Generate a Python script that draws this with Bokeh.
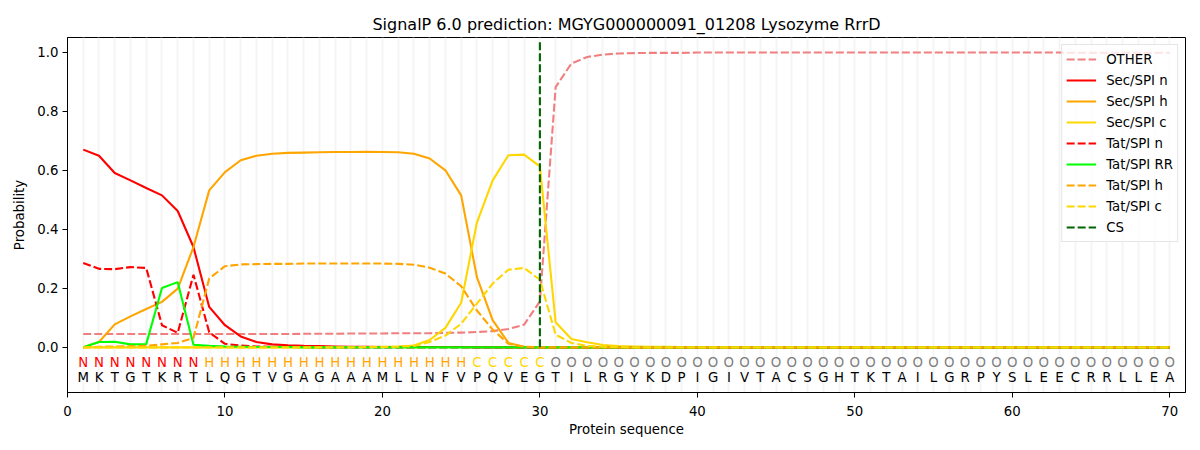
from bokeh.plotting import figure
from bokeh.models import Range1d, FixedTicker, Grid, Legend, LegendItem, ColumnDataSource, CustomJSTickFormatter
from bokeh.core.properties import value
from bokeh.embed import file_html
from bokeh.resources import INLINE

title_text = "SignalP 6.0 prediction: MGYG000000091_01208 Lysozyme RrrD"
sequence = list("MKTGTKRTLQGTVGAGAAAMLLNFVPQVEGTILRGYKDPIGIVTACSGHTKTAILGRPYSLEECRRLLEA")
region_labels = ["N"] * 8 + ["H"] * 17 + ["C"] * 5 + ["O"] * 40
positions = list(range(1, 71))

other = [0.045, 0.045, 0.045, 0.045, 0.045, 0.045, 0.045, 0.045, 0.045, 0.045,
         0.045, 0.045, 0.045, 0.045, 0.046, 0.046, 0.046, 0.047, 0.047, 0.047,
         0.048, 0.048, 0.048, 0.049, 0.050, 0.052, 0.055, 0.062, 0.077, 0.156,
         0.882, 0.962, 0.984, 0.992, 0.996, 0.997, 0.998, 0.998, 0.998, 0.999,
         0.999, 0.999, 0.999, 0.999, 0.999, 0.999, 0.999, 0.999, 0.999, 0.999,
         0.999, 0.999, 0.999, 0.999, 0.999, 0.999, 0.999, 0.999, 0.999, 0.999,
         0.999, 0.999, 0.999, 0.998, 0.998, 0.998, 0.998, 0.998, 0.998, 0.998]
sec_n = [0.670, 0.649, 0.591, 0.566, 0.540, 0.515, 0.462, 0.340, 0.137, 0.075,
         0.037, 0.018, 0.010, 0.007, 0.005, 0.004, 0.003, 0.002, 0.002, 0.001,
         0.001, 0.001, 0.001, 0.001, 0.001, 0.000, 0.000, 0.000, 0.000, 0.000] + [0.0] * 40
sec_h = [0.000, 0.018, 0.078, 0.105, 0.130, 0.154, 0.199, 0.340, 0.532, 0.594,
         0.634, 0.649, 0.656, 0.659, 0.660, 0.661, 0.662, 0.662, 0.663, 0.662,
         0.661, 0.656, 0.640, 0.600, 0.515, 0.238, 0.092, 0.015, 0.002, 0.000] + [0.0] * 40
sec_c = [0.000, 0.000, 0.000, 0.000, 0.000, 0.000, 0.000, 0.000, 0.000, 0.000,
         0.000, 0.000, 0.000, 0.000, 0.000, 0.000, 0.001, 0.001, 0.001, 0.002,
         0.003, 0.006, 0.025, 0.066, 0.151, 0.423, 0.566, 0.651, 0.653, 0.613,
         0.085, 0.028, 0.017, 0.008, 0.004, 0.003, 0.002, 0.002, 0.001, 0.001] + [0.001] * 30
tat_n = [0.286, 0.266, 0.265, 0.272, 0.269, 0.075, 0.049, 0.246, 0.051, 0.012,
         0.006, 0.003, 0.002, 0.001, 0.001, 0.000, 0.000, 0.000, 0.000, 0.000] + [0.0] * 50
tat_rr = [0.000, 0.018, 0.019, 0.010, 0.011, 0.201, 0.221, 0.009, 0.005, 0.003,
          0.002, 0.001, 0.001, 0.001, 0.000, 0.000, 0.000, 0.000, 0.000, 0.000] + [0.0] * 50
tat_h = [0.000, 0.002, 0.003, 0.004, 0.005, 0.010, 0.015, 0.032, 0.233, 0.275,
         0.281, 0.282, 0.283, 0.283, 0.284, 0.284, 0.284, 0.284, 0.284, 0.284,
         0.283, 0.280, 0.270, 0.250, 0.207, 0.125, 0.060, 0.012, 0.002, 0.000] + [0.0] * 40
tat_c = [0.000, 0.000, 0.000, 0.000, 0.000, 0.000, 0.000, 0.000, 0.000, 0.000,
         0.000, 0.000, 0.000, 0.000, 0.000, 0.000, 0.000, 0.000, 0.001, 0.001,
         0.002, 0.005, 0.018, 0.040, 0.080, 0.148, 0.216, 0.263, 0.269, 0.229,
         0.043, 0.015, 0.005, 0.002, 0.001, 0.000, 0.000, 0.000, 0.000, 0.000] + [0.0] * 30
cs_pos = 30
cs_top = 1.035
label_row_y = -0.05
seq_row_y = -0.102
x_ticks = [0, 10, 20, 30, 40, 50, 60, 70]
y_ticks = [0.0, 0.2, 0.4, 0.6, 0.8, 1.0]

label_colors = {"N": "red", "H": "orange", "C": "gold", "O": "grey"}

FONT = "DejaVu Sans"

p = figure(frame_width=1118, frame_height=355, output_backend="svg", toolbar_location=None,
           x_range=Range1d(0, 71), y_range=Range1d(-0.153, 1.05),
           min_border_left=67, min_border_right=7, min_border_top=37, min_border_bottom=50)
p.background_fill_color = "white"
p.border_fill_color = "white"
p.outline_line_color = "black"
p.outline_line_width = 1
p.outline_line_alpha = 1

p.title.text = title_text
p.title.align = "center"
p.title.text_font = FONT
p.title.text_font_size = "16px"
p.title.text_font_style = "normal"
p.title.text_color = "black"
p.title.standoff = 8

p.xgrid.visible = False
p.ygrid.visible = False
vgrid = Grid(dimension=0, ticker=FixedTicker(ticks=positions),
             grid_line_color="#f4f4f4", grid_line_width=2)
p.add_layout(vgrid)

for ax in (p.xaxis[0], p.yaxis[0]):
    ax.axis_label_text_font = FONT
    ax.axis_label_text_font_size = "13.3px"
    ax.axis_label_text_font_style = "normal"
    ax.axis_label_text_color = "black"
    ax.major_label_text_font = FONT
    ax.major_label_text_font_size = "13.3px"
    ax.major_label_text_color = "black"
    ax.major_tick_out = 5
    ax.major_tick_in = 0
    ax.minor_tick_out = 0
    ax.minor_tick_in = 0
    ax.axis_line_color = "black"
    ax.major_tick_line_color = "black"
p.xaxis.axis_label = "Protein sequence"
p.yaxis.axis_label = "Probability"
p.xaxis.ticker = FixedTicker(ticks=x_ticks)
p.yaxis.ticker = FixedTicker(ticks=y_ticks)
p.yaxis.formatter = CustomJSTickFormatter(code="return tick.toFixed(1);")
p.xaxis.major_label_standoff = 8
p.yaxis.major_label_standoff = 4
p.xaxis.axis_label_standoff = 3
p.yaxis.axis_label_standoff = 7

LW = 2.1
DASH = "8 3"
series = [
    ("OTHER", other, "lightcoral", "dash"),
    ("Sec/SPI n", sec_n, "red", "solid"),
    ("Sec/SPI h", sec_h, "orange", "solid"),
    ("Sec/SPI c", sec_c, "gold", "solid"),
    ("Tat/SPI n", tat_n, "red", "dash"),
    ("Tat/SPI RR", tat_rr, "lime", "solid"),
    ("Tat/SPI h", tat_h, "orange", "dash"),
    ("Tat/SPI c", tat_c, "gold", "dash"),
]
items = []
for name, vals, color, style in series:
    dash = "solid" if style == "solid" else DASH
    r = p.line(positions, vals, line_color=color, line_width=LW, line_dash=dash)
    items.append(LegendItem(label=name, renderers=[r]))

cs = p.segment(x0=[cs_pos], y0=[0.0], x1=[cs_pos], y1=[cs_top],
               line_color="darkgreen", line_width=LW, line_dash=DASH)
items.append(LegendItem(label="CS", renderers=[cs]))

src = ColumnDataSource(dict(
    x=positions,
    y1=[label_row_y] * len(positions),
    y2=[seq_row_y] * len(positions),
    lab=region_labels,
    seq=sequence,
    col=[label_colors[l] for l in region_labels],
))
p.text(x="x", y="y1", text="lab", source=src, text_color="col",
       text_font=value(FONT), text_font_size="13.3px",
       text_align="center", text_baseline="middle")
p.text(x="x", y="y2", text="seq", source=src, text_color="black",
       text_font=value(FONT), text_font_size="13.3px",
       text_align="center", text_baseline="middle")

legend = Legend(items=items, location="top_right")
legend.label_text_font = FONT
legend.label_text_font_size = "13.3px"
legend.label_text_color = "black"
legend.glyph_width = 30
legend.glyph_height = 20
legend.label_height = 20
legend.label_standoff = 10
legend.spacing = 1
legend.padding = 4
legend.margin = 7
legend.border_line_color = "#cccccc"
legend.border_line_width = 1
legend.background_fill_alpha = 0.8
p.add_layout(legend)

open("out.html", "w").write(file_html(p, INLINE))
